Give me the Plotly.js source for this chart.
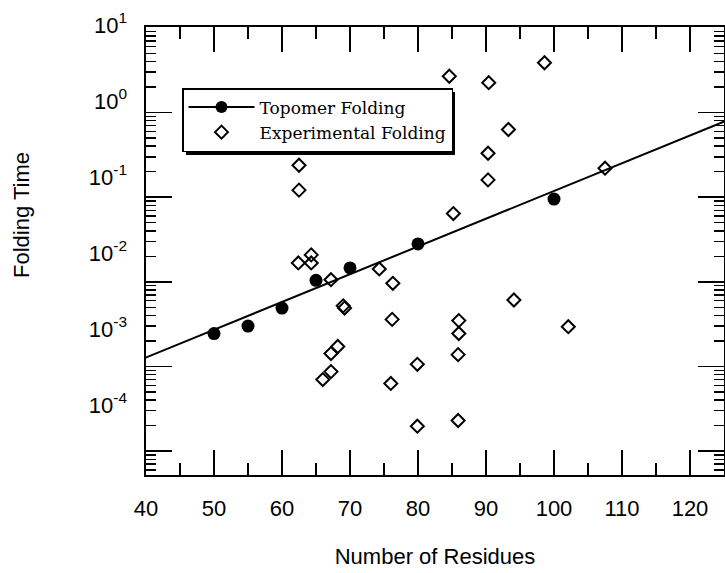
<!DOCTYPE html>
<html>
<head>
<meta charset="utf-8">
<script src="https://cdn.plot.ly/plotly-3.0.1.min.js"></script>
<style>html,body{margin:0;padding:0;background:#fff;}#chart{width:725px;height:573px;}</style>
</head>
<body>
<div id="chart"></div>
<script>
// Topomer folding (filled circles)
var topoX = [50, 55, 60, 65, 70, 80, 100];
var topoY = [0.00245, 0.0030, 0.0049, 0.0104, 0.0146, 0.028, 0.095];

// Fit line through topomer prediction
var fitX = [35, 130];
var fitY = [0.000875, 1.14];

// Experimental folding (open diamonds)
var expX = [62.5, 62.5, 84.6, 90.4, 98.6, 93.3, 90.3, 90.3, 107.5,
            64.3, 64.3, 62.4, 67.2, 74.3, 76.3, 69.0, 69.2, 76.2,
            68.2, 67.2, 67.2, 66.0, 79.9, 76.0, 79.9,
            85.2, 94.1, 86.0, 86.0, 85.9, 102.1, 85.9];
var expY = [0.238, 0.121, 2.68, 2.25, 3.87, 0.63, 0.33, 0.16, 0.22,
            0.0208, 0.0167, 0.0167, 0.0106, 0.0142, 0.0096, 0.0052, 0.0049, 0.0036,
            0.00172, 0.00142, 0.00087, 0.00070, 0.00106, 0.00063, 0.000197,
            0.064, 0.0061, 0.00348, 0.00245, 0.00138, 0.00295, 0.00023];

var yTickVals = [1e-4, 1e-3, 1e-2, 1e-1, 1, 10];
var yTickText = ['10<sup>-4</sup>', '10<sup>-3</sup>', '10<sup>-2</sup>', '10<sup>-1</sup>', '10<sup>0</sup>', '10<sup>1</sup>'];

var traces = [
  {
    x: fitX, y: fitY, name: 'Topomer Folding', type: 'scatter', mode: 'lines+markers',
    line: {color: 'black', width: 2},
    marker: {symbol: 'circle', color: 'black', size: 12},
    cliponaxis: true, hoverinfo: 'skip'
  },
  {
    x: topoX, y: topoY, name: 'Topomer points', type: 'scatter', mode: 'markers',
    marker: {symbol: 'circle', color: 'black', size: 13},
    showlegend: false
  },
  {
    x: expX, y: expY, name: 'Experimental Folding', type: 'scatter', mode: 'markers',
    marker: {symbol: 'diamond-open', color: 'black', size: 10, line: {width: 2, color: 'black'}}
  },
  {
    x: [], y: [], yaxis: 'y2', type: 'scatter', mode: 'markers', showlegend: false, hoverinfo: 'skip'
  }
];

var layout = {
  width: 725, height: 573,
  margin: {l: 146, r: 1, t: 15, b: 98},
  paper_bgcolor: 'white',
  plot_bgcolor: 'rgba(0,0,0,0)',
  showlegend: true,
  font: {family: 'Liberation Sans, Arial, sans-serif', color: 'black'},
  xaxis: {
    range: [40, 125],
    dtick: 10, tick0: 40,
    ticks: 'inside', ticklen: 25, tickwidth: 1.5, tickcolor: 'black',
    minor: {dtick: 5, tick0: 40, ticks: 'inside', ticklen: 12, tickwidth: 1.5, tickcolor: 'black', showgrid: false},
    showline: true, linewidth: 2, linecolor: 'black', mirror: 'ticks',
    showgrid: false, zeroline: false,
    tickfont: {family: 'Liberation Sans, Arial, sans-serif', size: 22, color: 'black'},
    ticklabelstandoff: 13,
    title: {text: 'Number of Residues', font: {family: 'Liberation Sans, Arial, sans-serif', size: 22, color: 'black'}, standoff: 28}
  },
  yaxis: {
    type: 'log',
    range: [-4.282, 1.01],
    domain: [0, 0.973913],
    dtick: 1,
    ticks: 'inside', ticklen: 26, tickwidth: 1.5, tickcolor: 'black',
    minor: {dtick: 'D1', ticks: 'inside', ticklen: 10, tickwidth: 1.5, tickcolor: 'black', showgrid: false},
    showline: true, linewidth: 2, linecolor: 'black', mirror: 'ticks',
    showticklabels: false,
    showgrid: false, zeroline: false
  },
  yaxis2: {
    type: 'log',
    range: [-4.066, 1.066],
    domain: [0.141304, 0.98913],
    anchor: 'free', position: 0, side: 'left',
    tickvals: yTickVals, ticktext: yTickText,
    ticks: '', showline: false, showgrid: false, zeroline: false,
    ticklabelstandoff: 19,
    tickfont: {family: 'Liberation Sans, Arial, sans-serif', size: 22, color: 'black'},
    title: {text: 'Folding Time', font: {family: 'Liberation Sans, Arial, sans-serif', size: 22, color: 'black'}, standoff: 52}
  },
  legend: {
    x: 0.0623, y: 0.8413, xanchor: 'left', yanchor: 'top',
    bgcolor: 'white', bordercolor: 'black', borderwidth: 1.5,
    itemwidth: 66, tracegroupgap: 0,
    font: {family: 'DejaVu Serif, Liberation Serif, serif', size: 17, color: 'black'}
  },
  shapes: [
    {type: 'rect', xref: 'paper', yref: 'paper', layer: 'above',
     x0: 0.0692, x1: 0.5346, y0: 0.6957, y1: 0.8326,
     fillcolor: 'black', line: {width: 0}}
  ]
};

Plotly.newPlot('chart', traces, layout, {staticPlot: true, displayModeBar: false});
</script>
</body>
</html>
